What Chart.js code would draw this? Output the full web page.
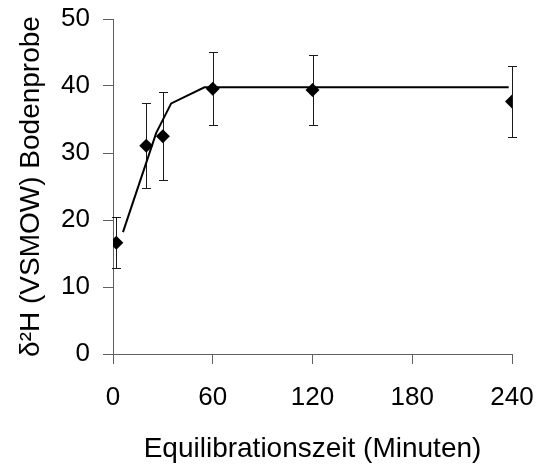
<!DOCTYPE html>
<html>
<head>
<meta charset="utf-8">
<script src="https://cdn.jsdelivr.net/npm/chart.js@4/dist/chart.umd.min.js"></script>
<style>
  html, body { margin: 0; padding: 0; background: #fff; }
  #wrap { width: 538px; height: 466px; position: relative; }
</style>
</head>
<body>
<div id="wrap"><canvas id="c" width="538" height="466"></canvas></div>
<script>
// Data
const times = [2, 20, 30, 60, 120, 240];
const means = [16.6, 31.1, 32.5, 39.6, 39.4, 37.7];
const errors = [3.8, 6.3, 6.6, 5.4, 5.2, 5.3];
const fitX = [6, 26, 35, 55, 238];
const fitY = [18.2, 33.0, 37.4, 39.8, 39.8];
const xTicks = [0, 60, 120, 180, 240];
const yTicks = [0, 10, 20, 30, 40, 50];

const axisColor = '#606060';
const font = { family: '"Liberation Sans", Arial, sans-serif', size: 26 };
const titleFont = { family: '"Liberation Sans", Arial, sans-serif', size: 28 };

const errorBarPlugin = {
  id: 'errorBars',
  beforeDatasetsDraw(chart) {
    const ctx = chart.ctx;
    const xs = chart.scales.x, ys = chart.scales.y;
    ctx.save();
    ctx.strokeStyle = '#1a1a1a';
    ctx.lineWidth = 1;
    times.forEach((t, i) => {
      const px = Math.round(xs.getPixelForValue(t)) + 0.5;
      const top = Math.round(ys.getPixelForValue(means[i] + errors[i])) + 0.5;
      const bot = Math.round(ys.getPixelForValue(means[i] - errors[i])) + 0.5;
      ctx.beginPath();
      ctx.moveTo(px, top); ctx.lineTo(px, bot);
      ctx.moveTo(px - 4.5, top); ctx.lineTo(px + 4.5, top);
      ctx.moveTo(px - 4.5, bot); ctx.lineTo(px + 4.5, bot);
      ctx.stroke();
    });
    ctx.restore();
  }
};

new Chart(document.getElementById('c'), {
  type: 'scatter',
  data: {
    datasets: [
      {
        data: fitX.map((x, i) => ({ x, y: fitY[i] })),
        showLine: true,
        borderColor: '#000',
        borderWidth: 2,
        pointRadius: 0,
        tension: 0,
        order: 2
      },
      {
        data: times.map((x, i) => ({ x, y: means[i] })),
        pointStyle: 'rectRot',
        pointRadius: 7,
        backgroundColor: '#000',
        borderColor: '#000',
        borderWidth: 0,
        showLine: false,
        order: 1
      }
    ]
  },
  options: {
    responsive: false,
    animation: false,
    events: [],
    layout: { padding: { top: 19, right: 26, left: 0, bottom: 0 } },
    plugins: { legend: { display: false }, tooltip: { enabled: false } },
    scales: {
      x: {
        type: 'linear',
        min: 0, max: 240,
        afterBuildTicks(s) { s.ticks = xTicks.map(v => ({ value: v })); },
        afterFit(s) { s.height = 112; s.paddingLeft = 0; s.paddingRight = 0; },
        border: { display: true, color: axisColor, width: 1 },
        grid: { display: true, drawOnChartArea: false, drawTicks: true, tickLength: 10, color: axisColor },
        ticks: { color: '#000', font, padding: 18, maxRotation: 0 },
        title: { display: true, text: 'Equilibrationszeit (Minuten)', color: '#000', font: titleFont, padding: { top: 0, bottom: 0 } }
      },
      y: {
        type: 'linear',
        min: 0, max: 50,
        afterBuildTicks(s) { s.ticks = yTicks.map(v => ({ value: v })); },
        afterFit(s) { s.width = 113; s.paddingTop = 0; s.paddingBottom = 0; },
        border: { display: true, color: axisColor, width: 1 },
        grid: { display: true, drawOnChartArea: false, drawTicks: true, tickLength: 10, color: axisColor },
        ticks: { color: '#000', font, padding: 13 },
        title: { display: true, text: 'δ²H (VSMOW) Bodenprobe', color: '#000', font: titleFont, padding: { top: 14, bottom: 0 } }
      }
    }
  },
  plugins: [errorBarPlugin]
});
</script>
</body>
</html>
